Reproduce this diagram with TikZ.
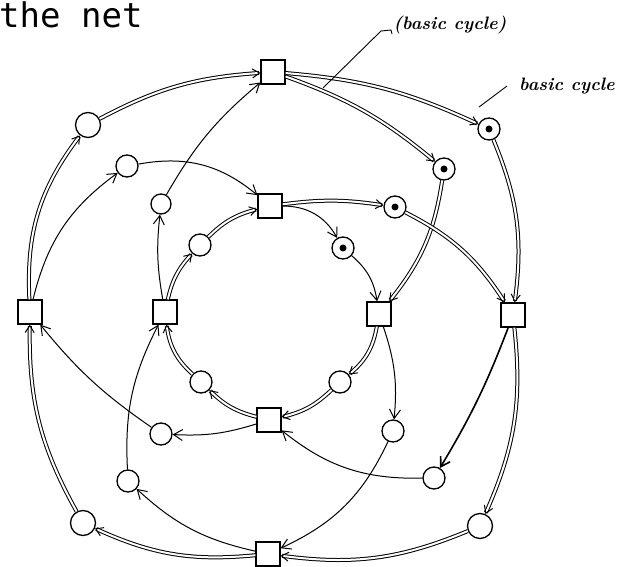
\documentclass[tikz,border=0pt]{standalone}
\usepackage{fontspec}
\newfontfamily\monofont{DejaVu Sans Mono}
\usetikzlibrary{arrows.meta}
\begin{document}
\begin{tikzpicture}[x=1pt,y=1pt,
  trans/.style={draw, line width=1.3pt, minimum size=24pt, inner sep=0pt, fill=white},
  place/.style={draw, circle, line width=1.3pt, minimum size=22pt, inner sep=0pt, fill=white},
  bigplace/.style={place, minimum size=25pt},
  token/.style={place, path picture={\fill[black] (path picture bounding box.center) circle (3.5pt);}},
  arc/.style={line width=1pt, -{Straight Barb[length=9pt,width=11pt]}},
  darc/.style={line width=1pt, double, double distance=2pt, -{Straight Barb[length=7pt,width=9pt]}},
  lab/.style={font=\bfseries\itshape\fontsize{18}{20}\selectfont, inner sep=0pt},
  lead/.style={line width=0.9pt}
]
\useasboundingbox (0,0) rectangle (619,566);
% title
\node[anchor=base west, inner sep=0pt, font=\monofont\fontsize{34}{34}\selectfont] (title) at (-1,538) {the net};
% transitions
\node[trans] (T1) at (273,494) {};
\node[trans] (T2) at (270,360) {};
\node[trans] (T3) at (30,254) {};
\node[trans] (T4) at (165,254) {};
\node[trans] (T5) at (379,252) {};
\node[trans] (T6) at (513,251) {};
\node[trans] (T7) at (269,146) {};
\node[trans] (T8) at (268,12) {};
% places
\node[bigplace] (Potl) at (88,441) {};
\node[place] (P2tl) at (127,400) {};
\node[place, minimum size=20pt] (P3) at (161,362) {};
\node[place] (Pitl) at (200,321) {};
\node[token] (Pk1) at (343,318) {};
\node[token] (Pk2) at (395,359) {};
\node[token] (Pk3) at (444,397) {};
\node[token] (Pk4) at (489,437) {};
\node[place] (Pibl) at (201,184) {};
\node[place] (Pibr) at (340,184) {};
\node[place] (Pml) at (161,132) {};
\node[place] (Pll) at (128,85) {};
\node[bigplace] (Pobl) at (83,43) {};
\node[place] (Pmr) at (393,135) {};
\node[place] (Plr) at (434,88) {};
\node[bigplace] (Pobr) at (480,40) {};
% outer basic cycle
\draw[darc] (T3) to[bend left=20] (Potl);
\draw[darc] (Potl) to[bend left=12] (T1);
\draw[darc] (T1) to[bend left=10] (Pk4);
\draw[darc] (Pk4) to[bend left=15] (T6);
\draw[darc] (T6) to[bend left=15] (Pobr);
\draw[darc] (Pobr) to[bend left=15] (T8);
\draw[darc] (T8) to[bend left=15] (Pobl);
\draw[darc] (Pobl) to[bend left=15] (T3);
% second basic cycle
\draw[darc] (T1) to[bend left=10] (Pk3);
\draw[darc] (Pk3) to[bend left=15] (T5);
\draw[darc] (T5) to[bend left=20] (Pibr);
\draw[darc] (Pibr) to[bend left=15] (T7);
\draw[darc] (T7) to[bend left=15] (Pibl);
\draw[darc] (Pibl) to[bend left=20] (T4);
\draw[darc] (T4) to[bend left=15] (Pitl);
\draw[darc] (Pitl) to[bend left=15] (T2);
\draw[darc] (T2) to[bend left=8] (Pk2);
\draw[darc] (Pk2) to[bend left=15] (T6);
% single arcs
\draw[arc] (T3) to[bend left=20] (P2tl);
\draw[arc] (P2tl) to[bend left=25] (T2);
\draw[arc] (T2) to[bend left=30] (Pk1);
\draw[arc] (Pk1) to[bend left=20] (T5);
\draw[arc] (T5) to[bend left=12] (Pmr);
\draw[arc] (Pmr) to[bend left=20] (T8);
\draw[arc, line width=1.6pt] (T6) to[bend left=5] (Plr);
\draw[arc] (Plr) to[bend left=20] (T7);
\draw[arc] (T7) to[bend left=10] (Pml);
\draw[arc] (Pml) to[bend left=8] (T3);
\draw[arc] (T8) to[bend left=15] (Pll);
\draw[arc] (Pll) to[bend left=15] (T4);
\draw[arc] (T4) to[bend left=8] (P3);
\draw[arc] (P3) to[bend left=10] (T1);
% labels
\node[lab, anchor=base] (lb1) at (450,536) {(basic cycle)};
\node[lab, anchor=base] (lb2) at (567,475) {basic cycle};
\coordinate (l1a) at (323,478);
\coordinate (l1b) at (381,535);
\coordinate (l1c) at (391,536);
\coordinate (l1d) at (392,532);
\draw[lead] (l1a) -- (l1b) -- (l1c) -- (l1d);
\coordinate (l2a) at (507,480);
\coordinate (l2b) at (479,459);
\draw[lead] (l2a) -- (l2b);
\end{tikzpicture}
\end{document}
